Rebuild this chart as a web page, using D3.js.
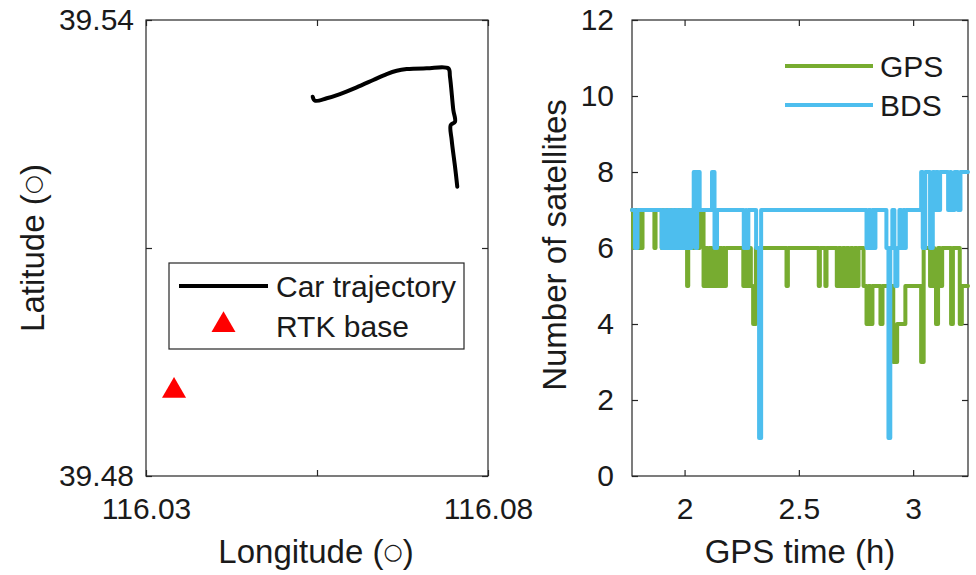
<!DOCTYPE html>
<html>
<head>
<meta charset="utf-8">
<script src="https://cdn.jsdelivr.net/npm/d3@7"></script>
<style>
  body { margin: 0; background: #fff; }
  text { font-family: "Liberation Sans", Arial, Helvetica, sans-serif; fill: #1a1a1a; }
</style>
</head>
<body>
<div id="chart"></div>
<script>
const width = 976;
const height = 575;

// left panel: car trajectory (lon, lat)
const trackLon = [116.05437, 116.05471, 116.05642, 116.05836, 116.0608, 116.06323, 116.06519, 116.06665,
  116.06811, 116.07104, 116.0742, 116.07444, 116.07493, 116.07518, 116.07455, 116.07469, 116.07518, 116.07551];
const trackLat = [39.52991, 39.52938, 39.5297, 39.53026, 39.53114, 39.53211, 39.53289, 39.53333,
  39.53355, 39.53364, 39.53364, 39.53254, 39.52816, 39.52662, 39.52618, 39.52421, 39.5207, 39.51807];
const baseLon = 116.0341;
const baseLat = 39.4912;

const lonTicks = [116.03, 116.055, 116.08];
const lonTickLabels = ["116.03", "", "116.08"];
const latTicks = [39.48, 39.51, 39.54];
const latTickLabels = ["39.48", "", "39.54"];

// right panel: satellites in view, [GPS time (h), count], drawn as steps
const gpsSteps = [
  [1.770, 7], [1.775, 6], [1.781, 7], [1.787, 6], [1.793, 7], [1.799, 6], [1.805, 7], [1.811, 6], [1.816, 7],
  [1.868, 6], [1.873, 7],
  [1.900, 6], [1.909, 7], [1.918, 6], [1.927, 7], [1.935, 6], [1.944, 7], [1.953, 6], [1.961, 7], [1.970, 6],
  [1.979, 7], [1.987, 6], [1.996, 7], [2.005, 6],
  [2.011, 5], [2.016, 6], [2.031, 7], [2.040, 6], [2.048, 7], [2.057, 6], [2.066, 7],
  [2.083, 5], [2.092, 6], [2.101, 5], [2.109, 6], [2.118, 5], [2.127, 6], [2.135, 5], [2.144, 6], [2.150, 5], [2.153, 6],
  [2.163, 5], [2.168, 6], [2.175, 5], [2.181, 6],
  [2.257, 5], [2.266, 6], [2.274, 5], [2.283, 6], [2.290, 5], [2.300, 4], [2.312, 6],
  [2.446, 5], [2.452, 6],
  [2.587, 5], [2.592, 6], [2.616, 5], [2.621, 6],
  [2.666, 5], [2.674, 6], [2.683, 5], [2.692, 6], [2.701, 5], [2.709, 6], [2.718, 5], [2.727, 6],
  [2.735, 5], [2.744, 6], [2.753, 5], [2.761, 6],
  [2.783, 5],
  [2.796, 4], [2.805, 5], [2.813, 4], [2.822, 5],
  [2.857, 4], [2.866, 5],
  [2.913, 3], [2.930, 4], [2.966, 5],
  [3.035, 3], [3.046, 6],
  [3.074, 5], [3.083, 6], [3.092, 5], [3.100, 4], [3.109, 6], [3.118, 5], [3.127, 6],
  [3.166, 4], [3.174, 6],
  [3.204, 4], [3.213, 5], [3.240, 5]
];
const bdsSteps = [
  [1.770, 7], [1.783, 6], [1.794, 7],
  [1.900, 6], [1.909, 7], [1.918, 6], [1.927, 7], [1.935, 6], [1.944, 7], [1.953, 6], [1.961, 7], [1.970, 6],
  [1.979, 7], [1.987, 6], [1.996, 7], [2.005, 6], [2.013, 7], [2.022, 6], [2.031, 7],
  [2.040, 8], [2.048, 6], [2.055, 8], [2.066, 7],
  [2.120, 8], [2.131, 6], [2.142, 7],
  [2.259, 6], [2.268, 7], [2.270, 6], [2.279, 7],
  [2.313, 6], [2.326, 1], [2.335, 7],
  [2.796, 6], [2.805, 7], [2.813, 6], [2.822, 7], [2.828, 6], [2.835, 7],
  [2.883, 6], [2.892, 1], [2.900, 6], [2.909, 7], [2.918, 6], [2.922, 5], [2.931, 6], [2.940, 7],
  [2.948, 6], [2.957, 7], [2.963, 6], [2.968, 7],
  [3.035, 8], [3.042, 6], [3.053, 8],
  [3.074, 6], [3.086, 8], [3.092, 7], [3.100, 8], [3.109, 7], [3.118, 8],
  [3.153, 7], [3.162, 8], [3.166, 7], [3.181, 8],
  [3.196, 7], [3.207, 8], [3.240, 8]
];
const timeTicks = [2, 2.5, 3];
const countTicks = [0, 2, 4, 6, 8, 10, 12];

const seriesNames = ["GPS", "BDS"];
const seriesColors = ["#77ac30", "#4dbeee"];

const axisColor = "#262626";
const fontSize = "30px";
const titleSize = "33px";

const svg = d3.select("#chart")
    .append("svg")
    .attr("width", width)
    .attr("height", height);

// ---------- left panel ----------
const L = { x0: 146, x1: 488, y0: 20, y1: 476 };

const xLon = d3.scaleLinear().domain([116.03, 116.08]).range([L.x0, L.x1]);
const yLat = d3.scaleLinear().domain([39.48, 39.54]).range([L.y1, L.y0]);

function styleAxis(g) {
    g.select(".domain").remove();
    g.selectAll("line").attr("stroke", axisColor).attr("stroke-width", 1.2);
    g.selectAll("text").style("font-size", fontSize).attr("fill", "#1a1a1a");
}

svg.append("g")
    .attr("transform", `translate(0,${L.y1})`)
    .call(d3.axisBottom(xLon).tickValues(lonTicks).tickFormat((d, i) => lonTickLabels[i])
        .tickSizeInner(-6).tickSizeOuter(0).tickPadding(22))
    .call(styleAxis);
svg.append("g")
    .attr("transform", `translate(0,${L.y0})`)
    .call(d3.axisTop(xLon).tickValues(lonTicks).tickFormat("").tickSizeInner(-6).tickSizeOuter(0))
    .call(styleAxis);
svg.append("g")
    .attr("transform", `translate(${L.x0},0)`)
    .call(d3.axisLeft(yLat).tickValues(latTicks).tickFormat((d, i) => latTickLabels[i])
        .tickSizeInner(-6).tickSizeOuter(0).tickPadding(12))
    .call(styleAxis);
svg.append("g")
    .attr("transform", `translate(${L.x1},0)`)
    .call(d3.axisRight(yLat).tickValues(latTicks).tickFormat("").tickSizeInner(-6).tickSizeOuter(0))
    .call(styleAxis);

svg.append("rect")
    .attr("x", L.x0).attr("y", L.y0)
    .attr("width", L.x1 - L.x0).attr("height", L.y1 - L.y0)
    .attr("fill", "none").attr("stroke", axisColor).attr("stroke-width", 1.2);

svg.append("path")
    .datum(d3.zip(trackLon, trackLat))
    .attr("d", d3.line().x(d => xLon(d[0])).y(d => yLat(d[1])).curve(d3.curveCatmullRom.alpha(0.5)))
    .attr("fill", "none")
    .attr("stroke", "#000")
    .attr("stroke-width", 4)
    .attr("stroke-linejoin", "round")
    .attr("stroke-linecap", "round");

const tri = d3.symbol().type(d3.symbolTriangle).size(250);
svg.append("path")
    .attr("d", tri())
    .attr("transform", `translate(${xLon(baseLon)},${yLat(baseLat)})`)
    .attr("fill", "#ff0000");

// legend (left)
const legL = svg.append("g");
legL.append("rect")
    .attr("x", 169).attr("y", 263).attr("width", 295).attr("height", 86)
    .attr("fill", "#fff").attr("stroke", axisColor).attr("stroke-width", 1.2);
legL.append("line")
    .attr("x1", 179).attr("x2", 268).attr("y1", 286).attr("y2", 286)
    .attr("stroke", "#000").attr("stroke-width", 4);
legL.append("path")
    .attr("d", tri())
    .attr("transform", "translate(223.5,325)")
    .attr("fill", "#ff0000");
legL.append("text").attr("x", 276).attr("y", 297).style("font-size", fontSize).text("Car trajectory");
legL.append("text").attr("x", 276).attr("y", 337).style("font-size", fontSize).text("RTK base");

// axis titles (left)
const degLabel = (sel, name) => {
    sel.append("tspan").text(name + " (");
    sel.append("tspan").style("font-family", "DejaVu Sans").style("font-size", "22px").attr("dy", -4).text("\u25CB");
    sel.append("tspan").attr("dy", 4).text(")");
};
svg.append("text")
    .attr("x", (L.x0 + L.x1) / 2 - 1).attr("y", 563)
    .attr("text-anchor", "middle").style("font-size", titleSize)
    .call(degLabel, "Longitude");
svg.append("text")
    .attr("transform", `translate(44,${(L.y0 + L.y1) / 2}) rotate(-90)`)
    .attr("text-anchor", "middle").style("font-size", titleSize)
    .call(degLabel, "Latitude");

// ---------- right panel ----------
const R = { x0: 632, x1: 968, y0: 20, y1: 476 };

const xTime = d3.scaleLinear().domain([1.77, 3.24]).range([R.x0, R.x1]);
const yCount = d3.scaleLinear().domain([0, 12]).range([R.y1, R.y0]);

svg.append("g")
    .attr("transform", `translate(0,${R.y1})`)
    .call(d3.axisBottom(xTime).tickValues(timeTicks).tickFormat(d3.format("~g"))
        .tickSizeInner(-6).tickSizeOuter(0).tickPadding(22))
    .call(styleAxis);
svg.append("g")
    .attr("transform", `translate(0,${R.y0})`)
    .call(d3.axisTop(xTime).tickValues(timeTicks).tickFormat("").tickSizeInner(-6).tickSizeOuter(0))
    .call(styleAxis);
svg.append("g")
    .attr("transform", `translate(${R.x0},0)`)
    .call(d3.axisLeft(yCount).tickValues(countTicks).tickFormat(d3.format("d"))
        .tickSizeInner(-6).tickSizeOuter(0).tickPadding(18))
    .call(styleAxis);
svg.append("g")
    .attr("transform", `translate(${R.x1},0)`)
    .call(d3.axisRight(yCount).tickValues(countTicks).tickFormat("").tickSizeInner(-6).tickSizeOuter(0))
    .call(styleAxis);

svg.append("rect")
    .attr("x", R.x0).attr("y", R.y0)
    .attr("width", R.x1 - R.x0).attr("height", R.y1 - R.y0)
    .attr("fill", "none").attr("stroke", axisColor).attr("stroke-width", 1.2);

const stepLine = d3.line()
    .x(d => xTime(d[0]))
    .y(d => yCount(d[1]))
    .curve(d3.curveStepAfter);

[gpsSteps, bdsSteps].forEach((steps, i) => {
    svg.append("path")
        .datum(steps)
        .attr("d", stepLine)
        .attr("fill", "none")
        .attr("stroke", seriesColors[i])
        .attr("stroke-width", 4)
        .attr("stroke-linejoin", "round")
        .attr("stroke-linecap", "round");
});

// legend (right, no box)
seriesNames.forEach((name, i) => {
    const y = 66 + i * 39;
    svg.append("line")
        .attr("x1", 785).attr("x2", 873).attr("y1", y).attr("y2", y)
        .attr("stroke", seriesColors[i]).attr("stroke-width", 4);
    svg.append("text")
        .attr("x", 880).attr("y", y + 11)
        .style("font-size", fontSize)
        .text(name);
});

svg.append("text")
    .attr("x", (R.x0 + R.x1) / 2).attr("y", 563)
    .attr("text-anchor", "middle").style("font-size", titleSize)
    .text("GPS time (h)");
svg.append("text")
    .attr("transform", `translate(566,${(R.y0 + R.y1) / 2 - 3}) rotate(-90)`)
    .attr("text-anchor", "middle").style("font-size", titleSize)
    .text("Number of satellites");
</script>
</body>
</html>
